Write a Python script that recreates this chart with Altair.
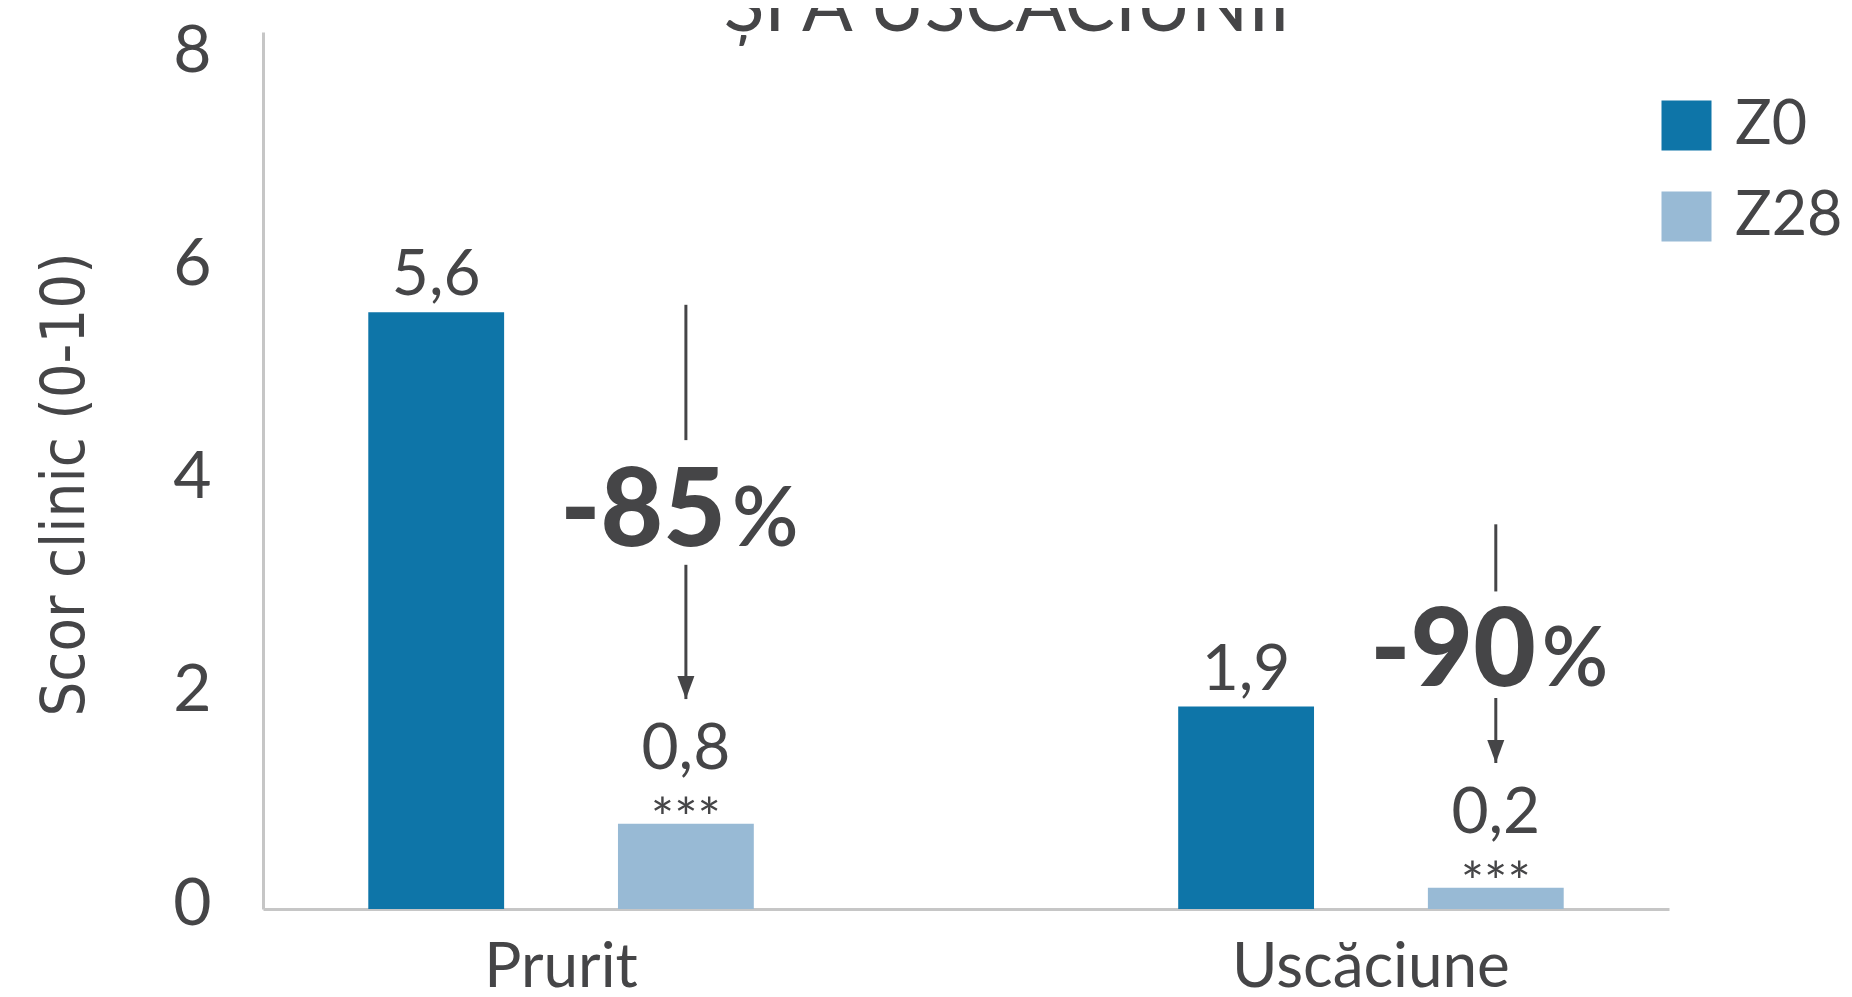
import altair as alt
import pandas as pd

# ---------------- data ----------------
categories = ["Prurit", "Uscăciune"]
series = ["Z0", "Z28"]
z0_values = [5.6, 1.9]
z28_values = [0.8, 0.2]
z0_labels = ["5,6", "1,9"]
z28_labels = ["0,8", "0,2"]
z28_significance = ["***", "***"]
reduction_numbers = ["-85", "-90"]
reduction_unit = ["%", "%"]
# annotation arrows (score units)
arrow_start = [5.67, 3.61]
arrow_gap_top = [4.40, 2.98]
arrow_gap_bottom = [3.23, 1.98]
arrow_tip = [1.97, 1.37]
reduction_level = [3.41, 2.09]

colors = ["#0E75A8", "#98BAD5"]
title_text = ["ȘI A USCĂCIUNII"]
y_title = "Scor clinic (0-10)"
y_ticks = [0, 2, 4, 6, 8]

TXT = "#454547"
FONT = "Lato"

bars_df = pd.DataFrame({
    "categorie": categories * 2,
    "serie": [series[0]] * 2 + [series[1]] * 2,
    "valoare": z0_values + z28_values,
    "eticheta": z0_labels + z28_labels,
})
z0_df = bars_df[bars_df["serie"] == "Z0"]
z28_df = bars_df[bars_df["serie"] == "Z28"].assign(stele=z28_significance)

ann_df = pd.DataFrame({
    "categorie": categories,
    "serie": ["Z28", "Z28"],
    "start": arrow_start,
    "gap_top": arrow_gap_top,
    "gap_bottom": arrow_gap_bottom,
    "tip": arrow_tip,
    "nivel": reduction_level,
    "numar": reduction_numbers,
    "unitate": reduction_unit,
})
title_df = pd.DataFrame({"titlu": title_text})

# ---------------- encodings ----------------
x_axis = alt.Axis(title=None, labelFont=FONT, labelFontSize=62, labelColor=TXT,
                  labelAngle=0, labelBaseline="alphabetic", labelPadding=77, labelLimit=1000,
                  ticks=False, tickSize=0, domainColor="#C6C6C6", domainWidth=3)
y_axis = alt.Axis(title=y_title, values=y_ticks, labelFont=FONT, labelFontSize=66,
                  labelColor=TXT, labelPadding=52, labelOffset=-5, ticks=False, tickSize=0,
                  grid=False, domainColor="#C6C6C6", domainWidth=3,
                  titleFont="DejaVu Sans Condensed, Lato", titleFontSize=61,
                  titleFontWeight="normal",
                  titleColor=TXT, titleAngle=270, titleX=-198, titleY=452,
                  titleAlign="center", titleBaseline="middle")

x_enc = alt.X("categorie:N", sort=categories, axis=x_axis,
              scale=alt.Scale(paddingInner=0.524, paddingOuter=0.13))
xo_enc = alt.XOffset("serie:N", sort=series,
                     scale=alt.Scale(paddingInner=0.456, paddingOuter=0))
y_scale = alt.Scale(domain=[0, 8.23], nice=False)


def yq(field):
    return alt.Y(f"{field}:Q", scale=y_scale, axis=y_axis)


bars = alt.Chart(bars_df).mark_bar().encode(
    x=x_enc, xOffset=xo_enc, y=yq("valoare"),
    color=alt.Color("serie:N", sort=series,
                    scale=alt.Scale(domain=series, range=colors),
                    legend=alt.Legend(title=None, orient="none", legendX=1393, legendY=63,
                                      symbolType="square", symbolSize=2500,
                                      symbolStrokeWidth=0, labelFont=FONT,
                                      labelFontSize=61, labelColor=TXT, labelOffset=18,
                                      rowPadding=29, padding=0)),
)

z0_text = alt.Chart(z0_df).mark_text(
    font=FONT, fontSize=64, color=TXT, baseline="alphabetic", dy=-17
).encode(x=x_enc, xOffset=xo_enc, y=yq("valoare"), text="eticheta:N")

z28_text = alt.Chart(z28_df).mark_text(
    font=FONT, fontSize=64, color=TXT, baseline="alphabetic", dy=-55
).encode(x=x_enc, xOffset=xo_enc, y=yq("valoare"), text="eticheta:N")

z28_stars = alt.Chart(z28_df).mark_text(
    font=FONT, fontSize=55, color=TXT, baseline="alphabetic", dy=13
).encode(x=x_enc, xOffset=xo_enc, y=yq("valoare"), text="stele:N")

rule_top = alt.Chart(ann_df).mark_rule(color=TXT, strokeWidth=3).encode(
    x=x_enc, xOffset=xo_enc, y=yq("start"), y2="gap_top:Q")
rule_bottom = alt.Chart(ann_df).mark_rule(color=TXT, strokeWidth=3).encode(
    x=x_enc, xOffset=xo_enc, y=yq("gap_bottom"), y2="tip:Q")
head = alt.Chart(ann_df).mark_point(
    shape="M-0.74,-2L0.74,-2L0,0Z", size=529, filled=True, color=TXT, opacity=1,
    strokeWidth=0
).encode(x=x_enc, xOffset=xo_enc, y=yq("tip"))

num_text = alt.Chart(ann_df).mark_text(
    font=FONT, fontSize=108, fontWeight=900, color=TXT, align="right",
    baseline="alphabetic", dx=40
).encode(x=x_enc, xOffset=xo_enc, y=yq("nivel"), text="numar:N")
pct_text = alt.Chart(ann_df).mark_text(
    font=FONT, fontSize=82, fontWeight=600, color=TXT, align="left",
    baseline="alphabetic", dx=46
).encode(x=x_enc, xOffset=xo_enc, y=yq("nivel"), text="unitate:N")

# chart title (second line of a two-line heading, cropped at the top of the image)
title_mark = alt.Chart(title_df).mark_text(
    font=FONT, fontSize=75, color=TXT, align="center", baseline="alphabetic"
).encode(x=alt.value(744), y=alt.value(-1), text="titlu:N")

chart = alt.layer(
    bars, z0_text, z28_text, z28_stars, rule_top, rule_bottom, head, num_text, pct_text,
    title_mark
).properties(
    width=1406, height=877,
    padding={"left": 255, "top": 24, "right": 175, "bottom": 80},
    autosize=alt.AutoSizeParams(type="none"),
).configure_view(stroke=None).configure_axis(grid=False)

chart.save("out.html", embed_options={"renderer": "svg", "actions": False})
